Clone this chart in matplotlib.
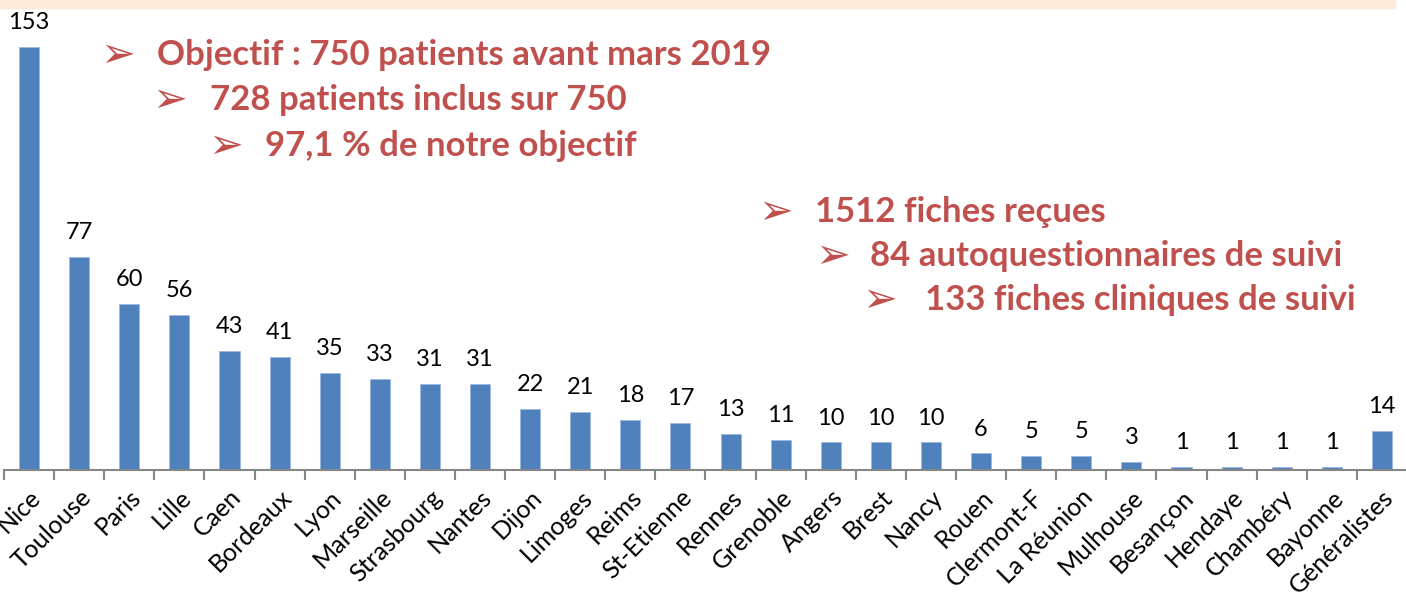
import matplotlib.pyplot as plt
from matplotlib.patches import Rectangle
from matplotlib.ticker import FixedLocator

# data
cities = ['Nice', 'Toulouse', 'Paris', 'Lille', 'Caen', 'Bordeaux', 'Lyon', 'Marseille',
          'Strasbourg', 'Nantes', 'Dijon', 'Limoges', 'Reims', 'St-Etienne', 'Rennes',
          'Grenoble', 'Angers', 'Brest', 'Nancy', 'Rouen', 'Clermont-F', 'La Réunion',
          'Mulhouse', 'Besançon', 'Hendaye', 'Chambéry', 'Bayonne', 'Généralistes']
patients = [153, 77, 60, 56, 43, 41, 35, 33, 31, 31, 22, 21, 18, 17, 13, 11, 10, 10, 10,
            6, 5, 5, 3, 1, 1, 1, 1, 14]

notes_left = ['Objectif : 750 patients avant mars 2019',
              '728 patients inclus sur 750',
              '97,1 % de notre objectif']
notes_right = ['1512 fiches reçues',
               '84 autoquestionnaires de suivi',
               '133 fiches cliniques de suivi']

fonts = ['Lato', 'DejaVu Sans']
red = '#C0504D'
blue = '#4F81BD'

fig = plt.figure(figsize=(14.06, 5.96), dpi=100)
ax = fig.add_axes([4 / 1406, 126 / 596, 1403 / 1406, 470 / 596])

x = list(range(len(cities)))
ax.bar(x, patients, width=0.4, color=blue, edgecolor='#9DB9E0', linewidth=0.6, zorder=2)
for xi, v in zip(x, patients):
    ax.text(xi, v + 5, str(v), ha='center', va='bottom', fontsize=17,
            family=fonts, color='black')

ax.set_xlim(-0.5, len(cities) - 0.5)
ax.set_ylim(0, 170)
ax.set_yticks([])
for s in ['top', 'right', 'left']:
    ax.spines[s].set_visible(False)
ax.spines['bottom'].set_color('#868686')
ax.spines['bottom'].set_linewidth(1.5)

# ticks between categories, labels centred on bars
ax.xaxis.set_major_locator(FixedLocator([i - 0.5 for i in range(len(cities) + 1)]))
ax.set_xticklabels([])
ax.tick_params(axis='x', which='major', length=7, width=1.5, color='#868686')
ax.xaxis.set_minor_locator(FixedLocator(x))
ax.set_xticklabels(cities, minor=True, rotation=45, ha='right', rotation_mode='anchor',
                   fontsize=18, family=fonts)
ax.tick_params(axis='x', which='minor', length=0, pad=11)

# red notes
left_pos = [(100, 157, 55), (152, 210, 100), (208, 265, 146)]
right_pos = [(758, 815, 212), (815, 870, 256), (862, 925, 300)]
for txt, (ax_, tx, y) in zip(notes_left + notes_right, left_pos + right_pos):
    fig.text(ax_ / 1406, 1 - y / 596, '➢', fontsize=30, color=red, va='center',
             family=['DejaVu Sans'])
    fig.text(tx / 1406, 1 - y / 596, txt, fontsize=25, fontweight='bold', color=red,
             va='center', family=fonts)

# peach band on top
fig.patches.append(Rectangle((0, 1 - 8 / 596), 1395 / 1406, 8 / 596,
                             transform=fig.transFigure, color='#FDEADA', zorder=0))

fig.savefig('out.png', dpi=100)
